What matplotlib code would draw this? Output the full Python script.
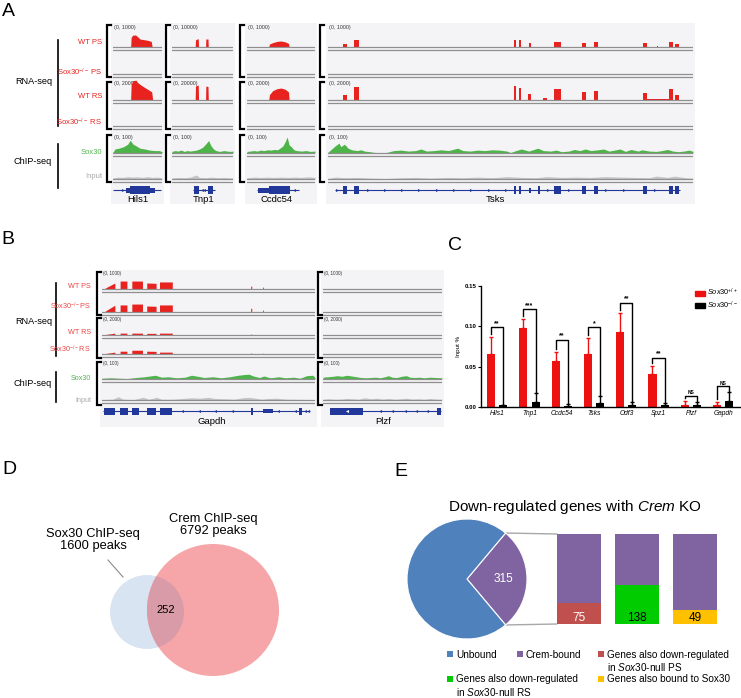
import numpy as np
import matplotlib
matplotlib.use("Agg")
import matplotlib.pyplot as plt
from matplotlib.patches import Rectangle, Circle, Patch, ConnectionPatch

W, H = 741, 698
plt.rcParams['font.family'] = ['Liberation Sans', 'DejaVu Sans']
plt.rcParams['mathtext.fontset'] = 'custom'
plt.rcParams['mathtext.rm'] = 'Liberation Sans'
plt.rcParams['mathtext.it'] = 'Liberation Sans:italic'

# ---------------- data ----------------
# RNA-seq coverage profiles: (genomic fraction, reads) read off the browser shots
HILS1_WT_PS = [(0.36, 0), (0.37, 480), (0.40, 590), (0.46, 600), (0.50, 520), (0.55, 400),
               (0.62, 370), (0.70, 340), (0.78, 280), (0.80, 0)]
HILS1_WT_RS = [(0.36, 0), (0.37, 1700), (0.40, 2150), (0.47, 2200), (0.50, 1950), (0.56, 1700),
               (0.63, 1450), (0.72, 1150), (0.79, 900), (0.81, 0)]
TNP1_WT_PS = [(0.38, 0), (0.385, 3600), (0.43, 4200), (0.435, 0), (0.55, 0), (0.555, 4000),
              (0.59, 4000), (0.595, 0)]
TNP1_WT_RS = [(0.38, 0), (0.385, 15500), (0.43, 16700), (0.435, 0), (0.55, 0), (0.555, 15500),
              (0.59, 15000), (0.595, 0)]
CCDC54_WT_PS = [(0.32, 0), (0.33, 150), (0.38, 220), (0.44, 280), (0.50, 300), (0.56, 260),
                (0.61, 180), (0.62, 0)]
CCDC54_WT_RS = [(0.32, 0), (0.33, 600), (0.38, 1050), (0.44, 1250), (0.50, 1330), (0.56, 1200),
                (0.61, 900), (0.62, 0)]
# Tsks exon blocks: (start, end, reads)
TSKS_WT_PS = [(0.040, 0.052, 150), (0.072, 0.086, 350), (0.509, 0.515, 350), (0.523, 0.530, 350),
              (0.552, 0.557, 200), (0.619, 0.638, 270), (0.695, 0.707, 200), (0.728, 0.740, 250),
              (0.863, 0.873, 200), (0.900, 0.905, 40), (0.935, 0.945, 250), (0.952, 0.962, 150)]
TSKS_WT_RS = [(0.040, 0.052, 550), (0.072, 0.086, 1450), (0.509, 0.515, 1550), (0.523, 0.530, 1350),
              (0.548, 0.557, 650), (0.590, 0.600, 200), (0.619, 0.638, 1200), (0.695, 0.707, 900),
              (0.728, 0.740, 1000), (0.863, 0.873, 800), (0.873, 0.935, 120), (0.935, 0.945, 1200),
              (0.952, 0.962, 550)]

# ChIP-seq coverage (0-100 scale)
HILS1_SOX30 = [(0, 5), (0.04, 25), (0.12, 30), (0.22, 40), (0.30, 55), (0.35, 80), (0.41, 55), (0.47, 45),
               (0.55, 30), (0.65, 25), (0.75, 18), (0.86, 15), (0.95, 15), (1, 8)]
HILS1_INPUT = [(0, 6), (0.1, 12), (0.2, 10), (0.3, 15), (0.4, 12), (0.5, 14), (0.6, 10), (0.7, 15),
               (0.8, 10), (0.9, 12), (1, 8)]
TNP1_SOX30 = [(0, 10), (0.05, 15), (0.1, 12), (0.15, 18), (0.2, 10), (0.25, 15), (0.3, 12), (0.35, 15),
              (0.4, 18), (0.45, 25), (0.5, 35), (0.55, 55), (0.6, 78), (0.64, 45), (0.68, 25), (0.72, 15),
              (0.78, 10), (0.85, 15), (0.9, 12), (0.95, 10), (1, 12)]
TNP1_INPUT = [(0, 6), (0.1, 10), (0.2, 8), (0.3, 12), (0.4, 25), (0.45, 10), (0.55, 8), (0.65, 12),
              (0.75, 8), (0.85, 10), (1, 6)]
CCDC54_SOX30 = [(0, 10), (0.05, 12), (0.1, 15), (0.15, 12), (0.2, 18), (0.25, 15), (0.3, 20), (0.35, 18),
                (0.4, 22), (0.45, 20), (0.5, 35), (0.53, 45), (0.56, 70), (0.59, 100), (0.62, 50),
                (0.65, 40), (0.69, 20), (0.73, 15), (0.8, 12), (0.87, 15), (0.93, 10), (1, 12)]
CCDC54_INPUT = [(0, 8), (0.1, 12), (0.2, 10), (0.3, 12), (0.4, 10), (0.5, 12), (0.6, 10), (0.7, 12),
                (0.8, 10), (0.9, 14), (1, 10)]
TSKS_SOX30 = [(0, 5), (0.01, 25), (0.02, 45), (0.03, 62), (0.035, 40), (0.045, 55), (0.055, 30),
              (0.065, 20), (0.08, 15), (0.09, 20), (0.10, 12), (0.115, 8), (0.13, 3), (0.16, 3), (0.18, 15),
              (0.2, 18), (0.22, 12), (0.24, 15), (0.255, 25), (0.27, 12), (0.29, 15), (0.31, 20),
              (0.33, 15), (0.355, 30), (0.37, 15), (0.39, 12), (0.41, 18), (0.43, 15), (0.45, 20),
              (0.47, 18), (0.49, 12), (0.5, 3), (0.515, 15), (0.53, 25), (0.55, 12), (0.575, 30),
              (0.59, 15), (0.61, 12), (0.625, 18), (0.64, 8), (0.66, 12), (0.675, 22), (0.69, 15),
              (0.705, 25), (0.72, 15), (0.74, 20), (0.755, 25), (0.77, 12), (0.785, 18), (0.8, 25),
              (0.815, 10), (0.83, 22), (0.85, 12), (0.86, 20), (0.88, 12), (0.9, 10), (0.915, 15),
              (0.93, 22), (0.945, 12), (0.96, 8), (0.975, 12), (0.99, 18), (1, 10)]
TSKS_INPUT = [(0, 3), (0.02, 12), (0.05, 8), (0.08, 10), (0.12, 5), (0.16, 3), (0.2, 8), (0.24, 10),
              (0.28, 6), (0.33, 10), (0.37, 8), (0.41, 12), (0.45, 8), (0.49, 15), (0.53, 10),
              (0.57, 8), (0.6, 15), (0.64, 10), (0.68, 12), (0.72, 10), (0.76, 15), (0.8, 12),
              (0.84, 10), (0.88, 8), (0.9, 18), (0.93, 10), (0.95, 18), (0.98, 8), (1, 5)]

# Panel B
GAPDH_WT_PS = [(0.014, 0), (0.015, 60), (0.06, 400), (0.061, 0), (0.085, 0), (0.085, 530), (0.117, 530),
               (0.117, 0), (0.14, 0), (0.14, 530), (0.19, 530), (0.19, 0), (0.21, 0), (0.21, 400),
               (0.254, 380), (0.254, 0), (0.27, 0), (0.27, 470), (0.33, 470), (0.33, 0), (0.698, 0),
               (0.698, 190), (0.703, 190), (0.703, 0), (0.754, 0), (0.754, 125), (0.758, 125), (0.758, 0)]
GAPDH_KO_PS = [(0.014, 0), (0.015, 60), (0.06, 450), (0.061, 0), (0.085, 0), (0.085, 470), (0.117, 470),
               (0.117, 0), (0.14, 0), (0.14, 530), (0.19, 530), (0.19, 0), (0.21, 0), (0.21, 400),
               (0.254, 380), (0.254, 0), (0.27, 0), (0.27, 470), (0.33, 470), (0.33, 0), (0.698, 0),
               (0.698, 250), (0.703, 250), (0.703, 0), (0.754, 0), (0.754, 125), (0.758, 125), (0.758, 0)]
GAPDH_WT_RS = [(0.014, 0), (0.015, 60), (0.06, 250), (0.061, 0), (0.085, 0), (0.085, 250), (0.117, 250),
               (0.117, 0), (0.14, 0), (0.14, 250), (0.19, 250), (0.19, 0), (0.21, 0), (0.21, 220),
               (0.254, 220), (0.254, 0), (0.27, 0), (0.27, 250), (0.33, 250), (0.33, 0), (0.698, 0),
               (0.698, 120), (0.703, 120), (0.703, 0)]
GAPDH_KO_RS = [(0.014, 0), (0.015, 60), (0.06, 250), (0.061, 0), (0.085, 0), (0.085, 375), (0.117, 375),
               (0.117, 0), (0.14, 0), (0.14, 500), (0.19, 500), (0.19, 0), (0.21, 0), (0.21, 375),
               (0.254, 350), (0.254, 0), (0.27, 0), (0.27, 250), (0.33, 250), (0.33, 0), (0.698, 0),
               (0.698, 120), (0.703, 120), (0.703, 0), (0.754, 0), (0.754, 100), (0.758, 100), (0.758, 0)]
GAPDH_SOX30 = [(0, 5), (0.04, 8), (0.08, 5), (0.12, 3), (0.16, 10), (0.2, 15), (0.25, 25), (0.28, 12),
               (0.31, 15), (0.35, 8), (0.39, 12), (0.42, 25), (0.45, 18), (0.48, 10), (0.52, 15),
               (0.56, 8), (0.6, 15), (0.64, 25), (0.67, 30), (0.69, 32), (0.71, 20), (0.74, 10),
               (0.76, 20), (0.79, 8), (0.83, 15), (0.86, 8), (0.9, 12), (0.93, 5), (0.96, 22),
               (0.99, 25), (1, 10)]
GAPDH_INPUT = [(0, 3), (0.05, 5), (0.076, 22), (0.1, 5), (0.15, 3), (0.193, 18), (0.22, 5), (0.256, 18),
               (0.28, 5), (0.33, 5), (0.38, 10), (0.42, 15), (0.46, 12), (0.5, 18), (0.53, 10),
               (0.58, 8), (0.62, 5), (0.66, 15), (0.69, 18), (0.72, 12), (0.75, 5), (0.78, 10),
               (0.82, 12), (0.86, 6), (0.9, 5), (0.95, 4), (1, 3)]
PLZF_SOX30 = [(0, 12), (0.04, 15), (0.08, 18), (0.12, 22), (0.16, 18), (0.2, 25), (0.24, 20), (0.28, 15),
              (0.32, 10), (0.36, 8), (0.4, 10), (0.44, 12), (0.48, 8), (0.52, 15), (0.55, 22),
              (0.58, 12), (0.62, 10), (0.66, 18), (0.7, 22), (0.73, 12), (0.77, 10), (0.81, 12),
              (0.85, 8), (0.9, 12), (0.95, 10), (1, 8)]
PLZF_INPUT = [(0, 5), (0.05, 8), (0.1, 5), (0.15, 6), (0.2, 10), (0.25, 8), (0.3, 5), (0.35, 15),
              (0.4, 8), (0.45, 12), (0.5, 6), (0.55, 10), (0.6, 5), (0.65, 8), (0.7, 12), (0.75, 6),
              (0.8, 8), (0.85, 5), (0.9, 10), (0.95, 6), (1, 5)]

# gene models: span, exons (start, end, 'c' coding / 'u' utr), strand marks
HILS1_GENE = dict(span=(0.0, 0.98), exons=[(0.27, 0.35, 'u'), (0.35, 0.76, 'c'), (0.76, 0.86, 'u')],
                  marks=[0.2], mark='>')
TNP1_GENE = dict(span=(0.35, 0.70), exons=[(0.36, 0.44, 'c'), (0.59, 0.67, 'c')],
                 marks=[0.49, 0.53], mark='<')
CCDC54_GENE = dict(span=(0.14, 0.76), exons=[(0.16, 0.33, 'u'), (0.33, 0.63, 'c')],
                   marks=[0.69], mark='<')
TSKS_GENE = dict(span=(0.02, 0.965),
                 exons=[(0.042, 0.051, 'c'), (0.072, 0.085, 'c'), (0.510, 0.514, 'c'), (0.524, 0.529, 'c'),
                        (0.552, 0.556, 'u'), (0.575, 0.582, 'c'), (0.620, 0.638, 'c'), (0.695, 0.706, 'c'),
                        (0.729, 0.740, 'c'), (0.864, 0.873, 'c'), (0.935, 0.944, 'c'), (0.951, 0.962, 'c')],
                 marks=[0.025, 0.109, 0.156, 0.202, 0.25, 0.298, 0.345, 0.392, 0.44, 0.488, 0.604,
                        0.661, 0.763, 0.81, 0.896], mark='>')
GAPDH_GENE = dict(span=(0.005, 0.975),
                  exons=[(0.01, 0.06, 'c'), (0.085, 0.122, 'c'), (0.141, 0.174, 'c'), (0.211, 0.254, 'c'),
                         (0.272, 0.329, 'c'), (0.70, 0.709, 'c'), (0.756, 0.803, 'u'), (0.925, 0.939, 'c')],
                  marks=[0.374, 0.455, 0.53, 0.612, 0.828, 0.906, 0.955, 0.967], mark='<')
PLZF_GENE = dict(span=(0.06, 0.995), exons=[(0.06, 0.34, 'c'), (0.955, 0.99, 'c')],
                 marks=[0.48, 0.58, 0.69, 0.78, 0.87], mark='<')

# Panel C: ChIP-qPCR
QPCR_GENES = ['Hils1', 'Tnp1', 'Ccdc54', 'Tsks', 'Odf3', 'Spz1', 'Plzf', 'Gapdh']
WT_MEAN = [0.066, 0.098, 0.057, 0.066, 0.093, 0.041, 0.003, 0.003]
WT_ERR = [0.021, 0.011, 0.011, 0.019, 0.023, 0.010, 0.004, 0.003]
KO_MEAN = [0.002, 0.006, 0.001, 0.005, 0.003, 0.002, 0.002, 0.008]
KO_ERR = [0.001, 0.011, 0.003, 0.009, 0.003, 0.003, 0.004, 0.010]
SIG_Y = [0.099, 0.121, 0.083, 0.099, 0.129, 0.061, 0.014, 0.026]
SIG_TXT = ['**', '***', '**', '*', '**', '**', 'NS', 'NS']

# Panel D: peak overlap
SOX30_PEAKS, CREM_PEAKS, SHARED_PEAKS = 1600, 6792, 252

# Panel E
PIE_LABELS = ['Crem-bound', 'Unbound']
PIE_VALUES = [315, 819]
SUB_LABELS = ['Sox30-null PS', 'Sox30-null RS', 'bound to Sox30']
SUB_VALUES = [75, 138, 49]

# ---------------- style ----------------
RED = '#e8221f'
GREEN = '#4db449'
GREY = '#c4c4c4'
NAVY = '#21389a'
BG = '#f4f4f6'
LINE = '#8f8f8f'
E_BLUE, E_PURPLE, E_RED, E_GREEN, E_YELLOW = '#4f81bd', '#8064a2', '#c0504d', '#00cc00', '#ffc000'

fig = plt.figure(figsize=(W / 100, H / 100), dpi=100)
cv = fig.add_axes([0, 0, 1, 1], zorder=0)
cv.set_xlim(0, W)
cv.set_ylim(H, 0)
cv.axis('off')


def add_ax(x0, y0, x1, y1, z=2):
    return fig.add_axes([x0 / W, 1 - y1 / H, (x1 - x0) / W, (y1 - y0) / H], zorder=z)


def blocks_to_profile(blocks):
    pts = []
    for s, e, v in blocks:
        pts += [(s, 0), (s, v), (e, v), (e, 0)]
    return pts


def draw_gene(ax, y, g, thick, thin):
    ax.plot(g['span'], [y, y], color=NAVY, lw=0.8, solid_capstyle='butt')
    for s, e, k in g['exons']:
        h = thick if k == 'c' else thin
        ax.add_patch(Rectangle((s, y - h / 2), e - s, h, color=NAVY, lw=0))
    ax.plot(g['marks'], [y] * len(g['marks']), ls='none', marker=g['mark'], ms=2.2,
            color=NAVY, mew=0)


def browser(x0, x1, top, bot, bg_bot, tracks, gene, gene_y, thick, thin, gap):
    cv.add_patch(Rectangle((x0 - 2, top), x1 - x0 + 4, bg_bot - top, color=BG, lw=0, zorder=0))
    ax = add_ax(x0, top, x1, bot)
    ax.set_xlim(0, 1)
    ax.set_ylim(bot, top)
    ax.axis('off')
    for base, hpx, rng, color, prof in tracks:
        if prof:
            xs = [p[0] for p in prof]
            ys = [base - p[1] / rng * hpx for p in prof]
            ax.fill_between(xs, base, ys, color=color, lw=0)
        ax.plot([0, 1], [base, base], color=LINE, lw=0.9)
        ax.plot([0, 1], [base + gap, base + gap], color=LINE, lw=0.9)
    draw_gene(ax, gene_y, gene, thick, thin)
    return ax


def bracket(x, y0, y1):
    cv.plot([x + 4, x, x, x + 4], [y0, y0, y1, y1], color='black', lw=1.6,
            solid_joinstyle='miter')


# ---------------- panel A ----------------
A_BASE = [47, 74, 100, 126, 153, 179]
A_PANELS = [
    (113, 162, 107, ('(0, 1000)', '(0, 2000)', '(0, 100)'), (1000, 2000),
     [HILS1_WT_PS, None, HILS1_WT_RS, None, HILS1_SOX30, HILS1_INPUT], HILS1_GENE, 'Hils1', 138),
    (172, 233, 166, ('(0, 10000)', '(0, 20000)', '(0, 100)'), (10000, 20000),
     [TNP1_WT_PS, None, TNP1_WT_RS, None, TNP1_SOX30, TNP1_INPUT], TNP1_GENE, 'Tnp1', 204),
    (247, 315, 240, ('(0, 1000)', '(0, 2000)', '(0, 100)'), (1000, 2000),
     [CCDC54_WT_PS, None, CCDC54_WT_RS, None, CCDC54_SOX30, CCDC54_INPUT], CCDC54_GENE, 'Ccdc54', 277),
    (328, 693, 320, ('(0, 1000)', '(0, 2000)', '(0, 100)'), (1000, 2000),
     [blocks_to_profile(TSKS_WT_PS), None, blocks_to_profile(TSKS_WT_RS), None, TSKS_SOX30, TSKS_INPUT],
     TSKS_GENE, 'Tsks', 495),
]
for x0, x1, bx, scales, (rps, rrs), profs, gene, name, nx in A_PANELS:
    hp = [20, 20, 18, 18, 16, 16]
    rngs = [rps, rps, rrs, rrs, 100, 100]
    cols = [RED, RED, RED, RED, GREEN, GREY]
    tracks = [(A_BASE[i], hp[i], rngs[i], cols[i], profs[i]) for i in range(6)]
    browser(x0, x1, 23, 197, 204, tracks, gene, 190, 8, 5, 3)
    for (y0, y1), lab, ly in zip([(25, 77), (82, 129), (135, 182)], scales, [28, 84, 137]):
        bracket(bx, y0, y1)
        cv.text(x0 + 1, ly, lab, fontsize=3.8, va='center', ha='left', color='#333333', zorder=5)
    cv.text(nx, 200, name, fontsize=6.8, ha='center', va='center')

for y, lab, c in [(43, 'WT PS', RED), (72, r'Sox30$^{-/-}$ PS', RED), (96, 'WT RS', RED),
                  (122, r'Sox30$^{-/-}$ RS', RED), (152, 'Sox30', GREEN), (177, 'Input', '#a8a8a8')]:
    cv.text(102, y, lab, fontsize=5.5, ha='right', va='center', color=c)
cv.plot([58, 58], [40, 126], color='black', lw=1.2)
cv.plot([58, 58], [144, 188], color='black', lw=1.2)
cv.text(34, 82, 'RNA-seq', fontsize=6.6, ha='center', va='center')
cv.text(33, 162, 'ChIP-seq', fontsize=6.6, ha='center', va='center')

# ---------------- panel B ----------------
B_BASE = [289, 312, 335, 354, 379, 400]
B_PANELS = [
    (102, 315, 97, [GAPDH_WT_PS, GAPDH_KO_PS, GAPDH_WT_RS, GAPDH_KO_RS, GAPDH_SOX30, GAPDH_INPUT],
     GAPDH_GENE, 'Gapdh', 212),
    (323, 442, 318, [None, None, None, None, PLZF_SOX30, PLZF_INPUT], PLZF_GENE, 'Plzf', 383),
]
for x0, x1, bx, profs, gene, name, nx in B_PANELS:
    hp = [15, 15, 15, 15, 15, 15]
    rngs = [1000, 1000, 2000, 2000, 100, 100]
    cols = [RED, RED, RED, RED, GREEN, GREY]
    tracks = [(B_BASE[i], hp[i], rngs[i], cols[i], profs[i]) for i in range(6)]
    ax_b = browser(x0, x1, 270, 416, 427, tracks, gene, 411, 7, 4, 2.5)
    if name == 'Plzf':
        ax_b.plot([0.2], [411], marker='<', ms=2.2, color='white', mew=0)
    for (y0, y1), lab, ly in zip([(272, 315), (318, 358), (362, 405)],
                                 ['(0, 1000)', '(0, 2000)', '(0, 100)'], [274, 320, 364]):
        bracket(bx, y0, y1)
        cv.text(x0 + 1, ly, lab, fontsize=3.3, va='center', ha='left', color='#333333', zorder=5)
    cv.text(nx, 421, name, fontsize=6.8, ha='center', va='center')

for y, lab, c in [(287, 'WT PS', '#ec4545'), (306, r'Sox30$^{-/-}$PS', '#ec4545'),
                  (332, 'WT RS', '#ec4545'), (349, r'Sox30$^{-/-}$RS', '#ec4545'),
                  (379, 'Sox30', '#55b352'), (400, 'Input', '#aaaaaa')]:
    cv.text(91, y, lab, fontsize=5.2, ha='right', va='center', color=c)
cv.plot([56, 56], [283, 356], color='black', lw=1.2)
cv.plot([56, 56], [372, 402], color='black', lw=1.2)
cv.text(34, 321, 'RNA-seq', fontsize=6.6, ha='center', va='center')
cv.text(33, 384, 'ChIP-seq', fontsize=6.6, ha='center', va='center')

# ---------------- panel C ----------------
axc = add_ax(481, 286, 740, 407)
xc = np.arange(len(QPCR_GENES))
off, bw = 0.19, 0.25
axc.bar(xc - off, WT_MEAN, width=bw, color='#ee1111', lw=0)
axc.bar(xc + off, KO_MEAN, width=bw, color='black', lw=0)
axc.errorbar(xc - off, WT_MEAN, yerr=[np.zeros(len(xc)), WT_ERR], fmt='none', ecolor='#ee1111',
             elinewidth=1, capsize=1.6, capthick=1)
axc.errorbar(xc + off, KO_MEAN, yerr=[np.zeros(len(xc)), KO_ERR], fmt='none', ecolor='black',
             elinewidth=1, capsize=1.6, capthick=1)
for i in range(len(xc)):
    wt_top = WT_MEAN[i] + WT_ERR[i] + 0.004
    ko_top = KO_MEAN[i] + KO_ERR[i] + 0.001
    axc.plot([i - off, i - off, i + off, i + off], [wt_top, SIG_Y[i], SIG_Y[i], ko_top],
             color='black', lw=1)
    fs = 3.5 if SIG_TXT[i] == 'NS' else 5
    axc.text(i, SIG_Y[i] + 0.0005, SIG_TXT[i], ha='center', va='bottom', fontsize=fs,
             fontweight='bold')
axc.set_xlim(-0.5, 7.52)
axc.set_ylim(0, 0.15)
axc.set_yticks([0, 0.05, 0.10, 0.15])
axc.set_yticklabels(['0.00', '0.05', '0.10', '0.15'], fontsize=4.4, fontweight='bold')
axc.set_xticks(xc)
axc.set_xticklabels(QPCR_GENES, fontsize=4.8, style='italic')
axc.tick_params(axis='y', length=2, width=0.8, pad=1)
axc.tick_params(axis='x', length=0, pad=2)
axc.set_ylabel('Input %', fontsize=4.5, labelpad=3)
for s in ['top', 'right']:
    axc.spines[s].set_visible(False)
for s in ['left', 'bottom']:
    axc.spines[s].set_linewidth(1)
axc.legend([Patch(color='#ee1111'), Patch(color='black')],
           [r'$\it{Sox30}^{+/+}$', r'$\it{Sox30}^{-/-}$'], loc='upper left',
           bbox_to_anchor=(695 / W, 1 - 287 / H), bbox_transform=fig.transFigure, frameon=False,
           fontsize=5.3, handlelength=1.3, handleheight=0.7, handletextpad=0.3, labelspacing=0.15,
           borderpad=0, borderaxespad=0)

# ---------------- panel D ----------------
axd = add_ax(40, 480, 320, 698)
axd.set_xlim(40, 320)
axd.set_ylim(698, 480)
axd.axis('off')
c_blue = Circle((147, 612), 37, color='#d9e4f3', lw=0)
c_red = Circle((213, 610), 66, color='#f6a6a9', lw=0)
axd.add_patch(c_blue)
axd.add_patch(c_red)
c_mix = Circle((147, 612), 37, color='#d99ba7', lw=0)
axd.add_patch(c_mix)
c_mix.set_clip_path(c_red)
axd.plot([108, 123], [560, 577], color='#8a8a8a', lw=0.8)
axd.text(93, 540, f'Sox30 ChIP-seq\n{SOX30_PEAKS} peaks', ha='center', va='center', fontsize=9.3,
         linespacing=1.05)
axd.text(213, 525, f'Crem ChIP-seq\n{CREM_PEAKS} peaks', ha='center', va='center', fontsize=9.3,
         linespacing=1.05)
axd.text(166, 610, str(SHARED_PEAKS), ha='center', va='center', fontsize=8)

# ---------------- panel E ----------------
cv.text(575, 507, r'Down-regulated genes with $\it{Crem}$ KO', ha='center', va='center', fontsize=11)
axp = add_ax(407, 519, 527, 639)
half = 180.0 * PIE_VALUES[0] / sum(PIE_VALUES)
axp.pie(PIE_VALUES, colors=[E_PURPLE, E_BLUE], startangle=-half, counterclock=True, radius=1,
        wedgeprops=dict(edgecolor='white', lw=0.8))
axp.set_xlim(-1, 1)
axp.set_ylim(-1, 1)
axp.text(0.6, 0.0, str(PIE_VALUES[0]), color='white', ha='center', va='center', fontsize=8.5)

axe = add_ax(550, 534, 725, 624)
xb = np.arange(len(SUB_VALUES))
total = PIE_VALUES[0]
sub_cols = [E_RED, E_GREEN, E_YELLOW]
axe.bar(xb, SUB_VALUES, width=0.76, color=sub_cols, lw=0)
axe.bar(xb, [total - v for v in SUB_VALUES], bottom=SUB_VALUES, width=0.76, color=E_PURPLE, lw=0)
for i, v in enumerate(SUB_VALUES):
    axe.text(i, 21, str(v), ha='center', va='center', fontsize=8.5,
             color='white' if i == 0 else 'black')
axe.set_xlim(-0.5, 2.517)
axe.set_ylim(0, total)
axe.axis('off')
th = np.deg2rad(half)
for sgn, yb in [(1, total), (-1, 0)]:
    con = ConnectionPatch(xyA=(np.cos(th), sgn * np.sin(th)), coordsA=axp.transData,
                          xyB=(-0.38, yb), coordsB=axe.transData, color='#a8a8a8', lw=1)
    fig.add_artist(con)

legend_items = [
    (450, 654, E_BLUE, 'Unbound'),
    (520, 654, E_PURPLE, 'Crem-bound'),
    (601, 654, E_RED, 'Genes also down-regulated\nin $\\it{Sox30}$-null PS'),
    (450, 679, E_GREEN, 'Genes also down-regulated\nin $\\it{Sox30}$-null RS'),
    (601, 679, E_YELLOW, 'Genes also bound to Sox30'),
]
for x, y, c, lab in legend_items:
    cv.plot([x], [y], marker='s', ms=4, color=c, mew=0)
    cv.text(x + 6, y - 4.5, lab, fontsize=7.2, ha='left', va='top', linespacing=1.15)

# ---------------- panel letters ----------------
for lab, x, y in [('A', 8, 11), ('B', 8, 240), ('C', 455, 245), ('D', 9, 470), ('E', 401, 471)]:
    cv.text(x, y, lab, fontsize=14, ha='center', va='center')

fig.savefig('out.png', dpi=100)
